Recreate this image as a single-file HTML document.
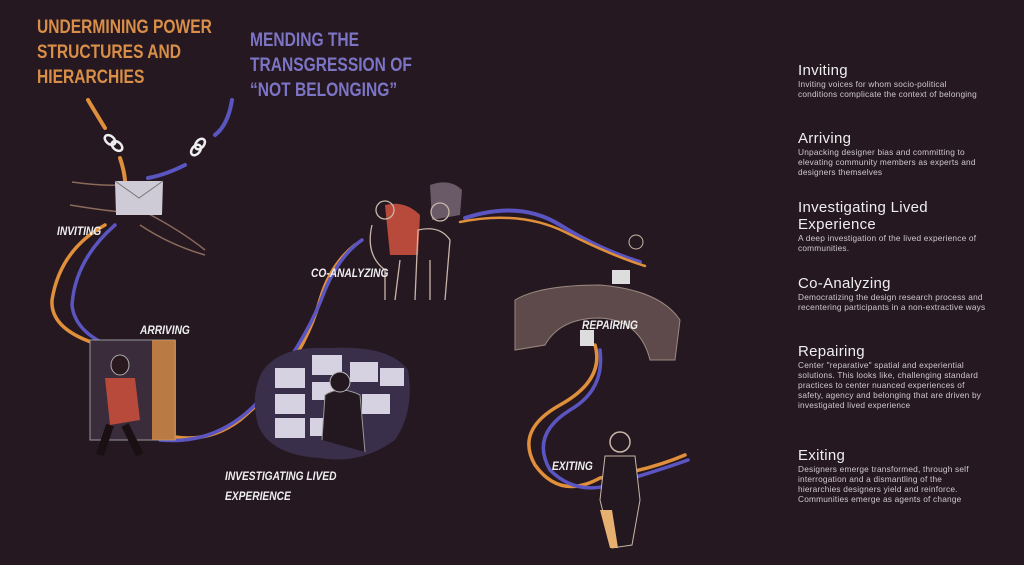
<!DOCTYPE html>
<html><head><meta charset="utf-8"><style>
body{margin:0;width:1024px;height:565px;background:#251821;overflow:hidden;position:relative;font-family:"Liberation Sans",sans-serif}
.h{position:absolute;font-family:"Liberation Sans",sans-serif;font-weight:bold;font-size:19px;line-height:25px;letter-spacing:0px;transform:scaleX(0.82);transform-origin:left top}
.lab{position:absolute;color:#eee;font-weight:bold;font-style:italic;font-size:12px;transform:scaleX(0.85);transform-origin:left top}
.side{position:absolute;left:798px;width:188px;color:#ddd}
.side b{display:block;font-weight:normal;font-size:15px;line-height:17px;color:#eee;letter-spacing:0.3px}
.side p{margin:0;font-size:8.3px;line-height:10px;color:#cfc8cc;letter-spacing:0.2px}
</style></head><body>
<div class="h" style="left:37px;top:15px;color:#d98f47;width:260px">UNDERMINING POWER<br>STRUCTURES AND<br>HIERARCHIES</div>
<div class="h" style="left:250px;top:28px;color:#7c74c4;width:230px">MENDING THE<br>TRANSGRESSION OF<br>“NOT BELONGING”</div>
<svg width="1024" height="565" style="position:absolute;left:0;top:0">
<g fill="none" stroke-linecap="round">
<path d="M88 100 Q100 120 105 128" stroke="#e08f3a" stroke-width="4"/>
<path d="M232 100 Q228 125 215 135" stroke="#5a55c0" stroke-width="4"/>
<path d="M120 158 Q124 170 125 180" stroke="#e08f3a" stroke-width="4"/>
<path d="M185 165 Q165 175 148 178" stroke="#5a55c0" stroke-width="4"/>
<path d="M105 225 Q60 250 52 300 Q50 330 100 345" stroke="#e08f3a" stroke-width="3.5"/>
<path d="M115 225 Q75 260 72 305 Q75 335 120 350" stroke="#5a55c0" stroke-width="3.5"/>
<path d="M150 430 Q200 450 240 420 Q300 370 320 300 Q330 265 355 245" stroke="#e08f3a" stroke-width="3.5"/>
<path d="M160 440 Q215 445 255 405 Q305 345 325 290 Q340 255 362 240" stroke="#5a55c0" stroke-width="3.5"/>
<path d="M465 218 Q520 200 560 225 Q600 250 640 262" stroke="#5a55c0" stroke-width="4"/>
<path d="M460 222 Q520 210 565 232 Q610 255 645 266" stroke="#e08f3a" stroke-width="2.5"/>
<path d="M595 345 Q605 380 560 405 Q515 430 535 465 Q560 500 600 478 Q650 470 685 455" stroke="#e08f3a" stroke-width="3.5"/>
<path d="M600 350 Q605 390 570 410 Q530 435 550 470 Q575 495 610 485 Q660 470 688 460" stroke="#5a55c0" stroke-width="3.5"/>
</g>
<g stroke="#eee" stroke-width="2.5" fill="none">
<ellipse cx="110" cy="140" rx="6" ry="4" transform="rotate(40 110 140)"/><ellipse cx="117" cy="146" rx="6" ry="4" transform="rotate(40 117 146)"/>
<ellipse cx="196" cy="150" rx="6" ry="4" transform="rotate(-50 196 150)"/><ellipse cx="200" cy="144" rx="6" ry="4" transform="rotate(-50 200 144)"/>
</g>
<g stroke="#8a6a5a" stroke-width="1.5" fill="none">
<path d="M72 182 Q100 186 120 185 M70 205 Q100 210 122 212 M145 212 Q180 230 205 250 M140 225 Q170 245 205 255"/>
</g>
<polygon points="115,181 163,181 162,215 116,215" fill="#cfcbd6"/>
<path d="M115 181 L139 198 L163 181" stroke="#777" fill="none"/>
<rect x="90" y="340" width="85" height="100" fill="#3a2c3a" stroke="#999" stroke-width="1"/>
<rect x="152" y="340" width="24" height="100" fill="#d98f47" opacity=".8"/>
<ellipse cx="120" cy="365" rx="9" ry="10" fill="#2a1a20" stroke="#aaa"/>
<path d="M105 378 L135 378 L140 420 L110 425Z" fill="#b74a3a"/>
<path d="M110 425 L100 455 M125 425 L140 455" stroke="#1a1014" stroke-width="8"/>
<path d="M262 372 Q280 345 330 348 Q390 345 408 370 Q415 410 395 440 Q360 465 320 458 Q270 455 258 425 Q250 395 262 372Z" fill="#3a2f4a"/>
<g fill="#d6d2e2">
<rect x="275" y="368" width="30" height="20"/><rect x="312" y="355" width="30" height="20"/><rect x="350" y="362" width="28" height="20"/><rect x="380" y="368" width="24" height="18"/>
<rect x="275" y="394" width="30" height="20"/><rect x="312" y="382" width="26" height="18"/><rect x="362" y="394" width="28" height="20"/>
<rect x="275" y="418" width="30" height="20"/><rect x="310" y="418" width="24" height="18"/>
</g>
<path d="M322 440 L325 395 Q340 385 360 395 L365 452" fill="#231820" stroke="#999"/>
<circle cx="340" cy="382" r="10" fill="#231820" stroke="#bbb"/>
<path d="M385 205 Q405 200 420 215 L418 255 L390 255Z" fill="#b74a3a"/>
<path d="M430 185 Q450 178 462 190 L460 215 L432 220Z" fill="#6a5a68"/>
<g stroke="#c9b6a8" stroke-width="1.3" fill="none">
<circle cx="385" cy="210" r="9"/><circle cx="440" cy="212" r="9"/>
<path d="M372 225 Q365 255 385 270 L385 300 M395 300 L400 260 M415 300 L418 230 Q440 225 450 240 L445 300 M430 300 L430 260"/>
</g>
<path d="M515 300 Q540 285 600 285 Q660 290 680 320 L675 360 L650 360 Q640 320 600 318 Q560 318 545 345 L515 350Z" fill="#5e4a4a" stroke="#9a8a80"/>
<rect x="612" y="270" width="18" height="14" fill="#ddd"/>
<rect x="580" y="330" width="14" height="16" fill="#ddd"/>
<circle cx="636" cy="242" r="7" fill="none" stroke="#c9b6a8"/>
<circle cx="620" cy="442" r="10" fill="none" stroke="#c9b6a8" stroke-width="1.5"/>
<path d="M605 456 L635 456 L640 500 L632 545 L612 548 L600 500Z" fill="#231820" stroke="#c9b6a8"/>
<path d="M600 510 L610 548 L618 548 L612 510Z" fill="#e6b070"/>
</svg>
<div class="lab" style="left:57px;top:224px">INVITING</div>
<div class="lab" style="left:140px;top:323px">ARRIVING</div>
<div class="lab" style="left:311px;top:266px">CO-ANALYZING</div>
<div class="lab" style="left:582px;top:318px">REPAIRING</div>
<div class="lab" style="left:552px;top:459px">EXITING</div>
<div class="lab" style="left:225px;top:466px;line-height:20px">INVESTIGATING LIVED<br>EXPERIENCE</div>
<div class="side" style="top:62px"><b>Inviting</b><p>Inviting voices for whom socio-political conditions complicate the context of belonging</p></div>
<div class="side" style="top:130px"><b>Arriving</b><p>Unpacking designer bias and committing to elevating community members as experts and designers themselves</p></div>
<div class="side" style="top:199px"><b>Investigating Lived<br>Experience</b><p>A deep investigation of the lived experience of communities.</p></div>
<div class="side" style="top:275px"><b>Co-Analyzing</b><p>Democratizing the design research process and recentering participants in a non-extractive ways</p></div>
<div class="side" style="top:343px"><b>Repairing</b><p>Center "reparative" spatial and experiential solutions. This looks like, challenging standard practices to center nuanced experiences of safety, agency and belonging that are driven by investigated lived experience</p></div>
<div class="side" style="top:447px"><b>Exiting</b><p>Designers emerge transformed, through self interrogation and a dismantling of the hierarchies designers yield and reinforce. Communities emerge as agents of change</p></div>
</body></html>
